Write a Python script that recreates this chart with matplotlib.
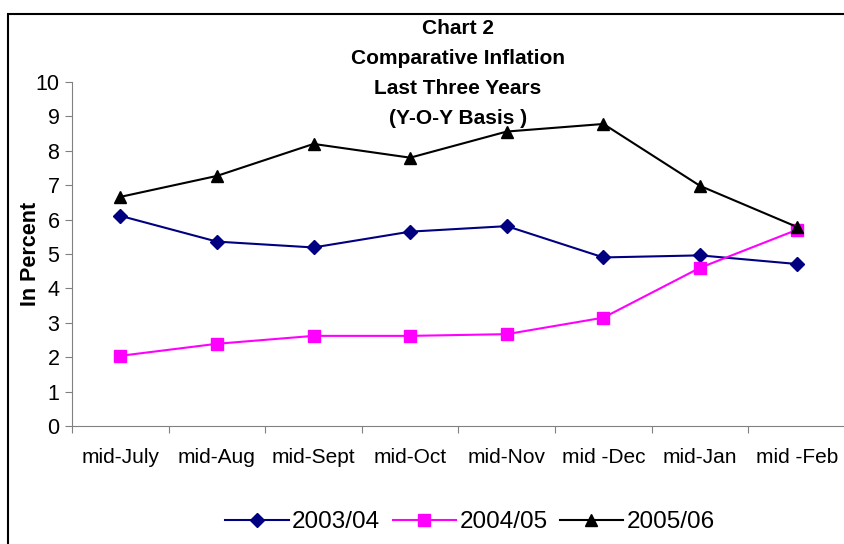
import matplotlib
matplotlib.use("Agg")
import matplotlib.pyplot as plt
from matplotlib.patches import Rectangle

plt.rcParams['font.family'] = ['Liberation Sans', 'DejaVu Sans']

# data
months = ['mid-July', 'mid-Aug', 'mid-Sept', 'mid-Oct', 'mid-Nov', 'mid -Dec', 'mid-Jan', 'mid -Feb']
y2003 = [6.11, 5.36, 5.19, 5.65, 5.81, 4.90, 4.96, 4.71]
y2004 = [2.04, 2.39, 2.62, 2.62, 2.67, 3.15, 4.60, 5.70]
y2005 = [6.66, 7.27, 8.20, 7.80, 8.56, 8.78, 6.98, 5.79]

fig = plt.figure(figsize=(8.45, 5.44), dpi=100)
ax = fig.add_axes([72 / 845, 118 / 544, 1 - 72 / 845, 344 / 544])

x = [i + 0.5 for i in range(len(months))]
ax.plot(x, y2003, color='#000080', marker='D', markersize=7, lw=1.5, label='2003/04')
ax.plot(x, y2004, color='#FF00FF', marker='s', markersize=9, lw=1.5, label='2004/05')
ax.plot(x, y2005, color='black', marker='^', markersize=9, lw=1.5, label='2005/06')

ax.set_xlim(0, len(months))
ax.set_ylim(0, 10)
ax.set_yticks(range(0, 11))
ax.set_xticks(range(0, len(months) + 1))
ax.set_xticklabels([])
ax.set_xticks(x, minor=True)
ax.set_xticklabels(months, minor=True)
ax.tick_params(axis='x', which='minor', length=0, pad=16, labelsize=15)
ax.tick_params(axis='x', which='major', length=5, color='#808080')
ax.tick_params(axis='y', length=5, color='#808080', labelsize=15.5, pad=4)

for s in ['top', 'right']:
    ax.spines[s].set_visible(False)
for s in ['left', 'bottom']:
    ax.spines[s].set_color('#808080')

ax.set_ylabel('In Percent', fontsize=15.5, fontweight='bold')
ax.yaxis.set_label_coords(-31 / 773, 0.5)

title_lines = ['Chart 2', 'Comparative Inflation', 'Last Three Years', '(Y-O-Y Basis )']
for i, t in enumerate(title_lines):
    fig.text(458 / 845, 1 - (29 + 30 * i) / 544, t, ha='center', va='center',
             fontsize=15, fontweight='bold')

fig.legend(loc='center', bbox_to_anchor=(470 / 845, 1 - 522 / 544), ncol=3, frameon=False,
           fontsize=17.5, handlelength=2.6, columnspacing=0.5, handletextpad=0.15)

# outer chart frame
fig.patches.append(Rectangle((8 / 845, -0.01), 1.0, 1 - 14 / 544 + 0.01, transform=fig.transFigure,
                             fill=False, edgecolor='black', lw=1.5))

fig.savefig('out.png', dpi=100)
